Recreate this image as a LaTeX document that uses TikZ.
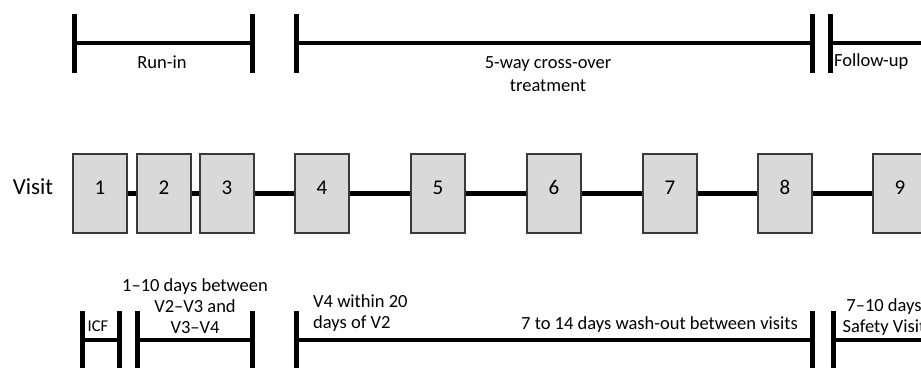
\documentclass[tikz,border=0pt]{standalone}
\usepackage{fontspec}
\setmainfont{Carlito}
\definecolor{boxfill}{HTML}{D9D9D9}
\definecolor{boxline}{HTML}{3A3A3A}
\begin{document}
\begin{tikzpicture}[x=1pt,y=-1pt,
  visitbox/.style={draw=boxline,line width=1.3pt,fill=boxfill,minimum width=54pt,minimum height=79pt,inner sep=0pt,
    font=\fontsize{21}{24}\selectfont,text height=14pt,text depth=12pt},
  link/.style={line width=4.5pt},
  barline/.style={line width=4pt},
  endbar/.style={line width=5pt},
  lbl/.style={font=\fontsize{18.5}{21}\selectfont,inner sep=0pt,text=black}
]
\useasboundingbox (0,0) rectangle (921,367);
\clip (0,0) rectangle (921,367);

% ---- top row: phases ----
\coordinate (rl1) at (74,14); \coordinate (rl2) at (74,73);
\coordinate (rr1) at (252,14); \coordinate (rr2) at (252,73);
\coordinate (tl1) at (296,14); \coordinate (tl2) at (296,73);
\coordinate (tr1) at (812,14); \coordinate (tr2) at (812,73);
\coordinate (fl1) at (830,14); \coordinate (fl2) at (830,73);
\coordinate (fr) at (925,43);
\draw[endbar] (rl1) -- (rl2);
\draw[endbar] (rr1) -- (rr2);
\draw[barline] (74,43) -- (252,43);
\draw[endbar] (tl1) -- (tl2);
\draw[endbar] (tr1) -- (tr2);
\draw[barline] (296,43) -- (812,43);
\draw[endbar] (fl1) -- (fl2);
\draw[barline] (830,43) -- (fr);
\node[lbl] (runin) at (162,62) {Run-in};
\node[lbl,align=center,font=\fontsize{18.5}{23}\selectfont] (treat) at (548,74) {5-way cross-over\\treatment};
\node[lbl,anchor=west] (fu) at (834,62) {Follow-up};

% ---- middle row: visits ----
\node[lbl,font=\fontsize{23}{26}\selectfont] (visit) at (33,187) {Visit};
\node[visitbox] (v1) at (100,193.5) {1};
\node[visitbox] (v2) at (164,193.5) {2};
\node[visitbox] (v3) at (227,193.5) {3};
\node[visitbox] (v4) at (322,193.5) {4};
\node[visitbox] (v5) at (438,193.5) {5};
\node[visitbox] (v6) at (554,193.5) {6};
\node[visitbox] (v7) at (670,193.5) {7};
\node[visitbox] (v8) at (785,193.5) {8};
\node[visitbox] (v9) at (900,193.5) {9};
\foreach \a/\b in {1/2,2/3,3/4,4/5,5/6,6/7,7/8,8/9}
  \draw[link] (v\a.east) -- (v\b.west);

% ---- bottom row: intervals ----
\coordinate (il1) at (82,311); \coordinate (il2) at (82,380);
\coordinate (ir1) at (119,311); \coordinate (ir2) at (119,380);
\coordinate (dl1) at (137,311); \coordinate (dl2) at (137,380);
\coordinate (dr1) at (252,311); \coordinate (dr2) at (252,380);
\coordinate (wl1) at (296,311); \coordinate (wl2) at (296,380);
\coordinate (wr1) at (812,311); \coordinate (wr2) at (812,380);
\coordinate (sl1) at (833,311); \coordinate (sl2) at (833,380);
\coordinate (sr) at (925,340);
\draw[endbar] (il1) -- (il2);
\draw[endbar] (ir1) -- (ir2);
\draw[barline] (82,340) -- (119,340);
\draw[endbar] (dl1) -- (dl2);
\draw[endbar] (dr1) -- (dr2);
\draw[barline] (137,340) -- (252,340);
\draw[endbar] (wl1) -- (wl2);
\draw[endbar] (wr1) -- (wr2);
\draw[barline] (296,340) -- (812,340);
\draw[endbar] (sl1) -- (sl2);
\draw[barline] (833,340) -- (sr);
\node[lbl,font=\fontsize{16.5}{19}\selectfont] (icf) at (98,326) {ICF};
\node[lbl,align=center] (days) at (195,306) {1--10 days between\\V2--V3 and\\V3--V4};
\node[lbl,align=left,anchor=north west] (v4w) at (313,294) {V4 within 20\\days of V2};
\node[lbl,anchor=east] (wash) at (798,325) {7 to 14 days wash-out between visits};
\node[lbl,align=center] (safe) at (884,317) {7--10 days\\Safety Visit};
\end{tikzpicture}
\end{document}
